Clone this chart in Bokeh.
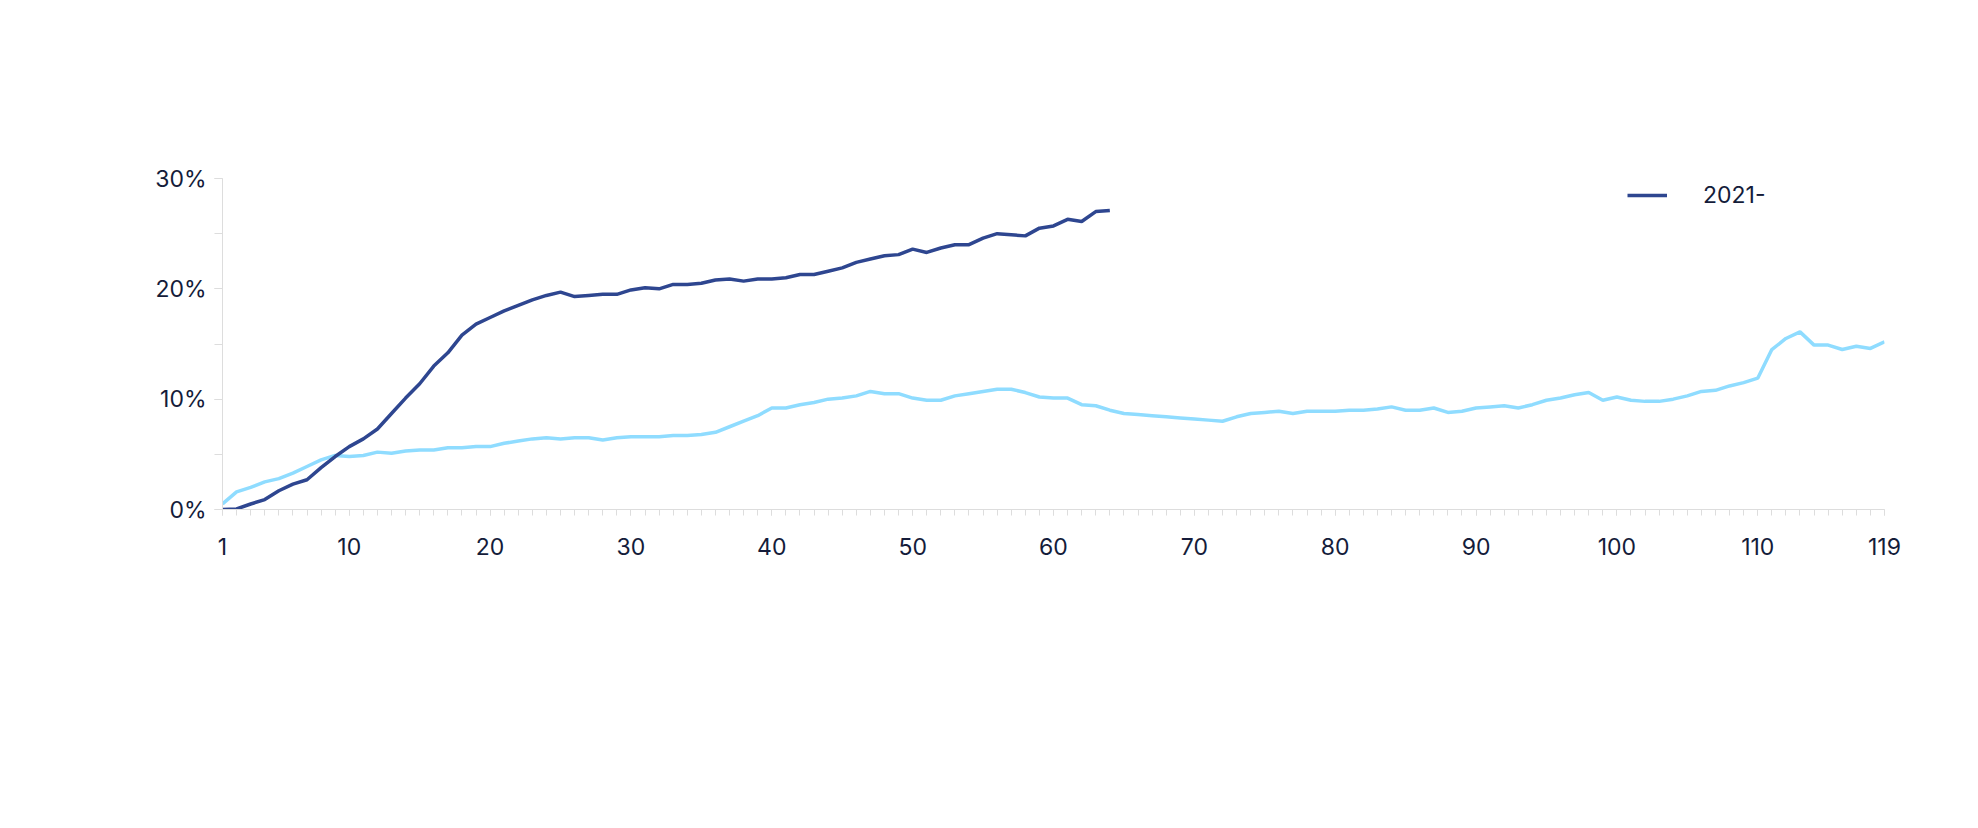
from bokeh.plotting import figure
from bokeh.models import Label, Legend, LegendItem, FixedTicker, CustomJSTickFormatter, BoxAnnotation
from bokeh.embed import file_html
from bokeh.resources import INLINE

months = list(range(1, 120))
prior_10_years = [0.5,1.6,2.0,2.5,2.8,3.3,3.9,4.5,4.9,4.8,4.9,5.2,5.1,5.3,5.4,5.4,5.6,5.6,5.7,5.7,
 6.0,6.2,6.4,6.5,6.4,6.5,6.5,6.3,6.5,6.6,6.6,6.6,6.7,6.7,6.8,7.0,7.5,8.0,8.5,9.2,
 9.2,9.5,9.7,10.0,10.1,10.3,10.7,10.5,10.5,10.1,9.9,9.9,10.3,10.5,10.7,10.9,10.9,10.6,10.2,10.1,
 10.1,9.5,9.4,9.0,8.7,8.6,8.5,8.4,8.3,8.2,8.1,8.0,8.4,8.7,8.8,8.9,8.7,8.9,8.9,8.9,
 9.0,9.0,9.1,9.3,9.0,9.0,9.2,8.8,8.9,9.2,9.3,9.4,9.2,9.5,9.9,10.1,10.4,10.6,9.9,10.2,
 9.9,9.8,9.8,10.0,10.3,10.7,10.8,11.2,11.5,11.9,14.5,15.5,16.1,14.9,14.9,14.5,14.8,14.6,15.2]
series_2021 = [0.0,0.05,0.5,0.9,1.7,2.3,2.7,3.8,4.8,5.7,6.4,7.3,8.7,10.1,11.4,13.0,14.2,15.8,16.8,17.4,
 18.0,18.5,19.0,19.4,19.7,19.3,19.4,19.5,19.5,19.9,20.1,20.0,20.4,20.4,20.5,20.8,20.9,20.7,20.9,20.9,
 21.0,21.3,21.3,21.6,21.9,22.4,22.7,23.0,23.1,23.6,23.3,23.7,24.0,24.0,24.6,25.0,24.9,24.8,25.5,25.7,
 26.3,26.1,27.0,27.1]
x_ticks = [1,10,20,30,40,50,60,70,80,90,100,110,119]
y_ticks = [0,10,20,30]

NAVY = "#141c3a"
LIGHT = "#8fdcff"
DARK = "#2e4690"
W, H = 1960, 810

p = figure(width=W, height=H, output_backend="svg", toolbar_location=None,
           x_range=(1, 119), y_range=(0, 30),
           min_border_left=222, min_border_right=76, min_border_top=178, min_border_bottom=301)
p.outline_line_color = None
p.grid.grid_line_color = None

r1 = p.line(months, prior_10_years, line_color=LIGHT, line_width=3.5)
r2 = p.line(list(range(1, len(series_2021)+1)), series_2021, line_color=DARK, line_width=3.5)

legend = Legend(items=[LegendItem(label="Prior 10 years", renderers=[r1]),
                       LegendItem(label="2021-", renderers=[r2])],
                location=(1405, 300), border_line_color=None, background_fill_alpha=0,
                label_text_font="Inter", label_text_font_size="23px", label_text_color=NAVY,
                glyph_width=40, spacing=8, label_standoff=36)
p.add_layout(legend, "center")

for ax in (p.xaxis[0], p.yaxis[0]):
    ax.axis_line_color = "#dddddd"
    ax.major_tick_line_color = "#dddddd"
    ax.minor_tick_line_color = "#dddddd"
    ax.major_label_text_font = "Inter"
    ax.major_label_text_font_size = "23px"
    ax.major_label_text_color = NAVY
    ax.major_tick_in = 0
    ax.minor_tick_in = 0

p.xaxis.ticker = FixedTicker(ticks=x_ticks, minor_ticks=months)
p.xaxis.major_tick_out = 6
p.xaxis.minor_tick_out = 6
p.xaxis.major_label_standoff = 22
p.yaxis.ticker = FixedTicker(ticks=y_ticks, minor_ticks=[0,5,10,15,20,25,30])
p.yaxis.major_tick_out = 8
p.yaxis.minor_tick_out = 8
p.yaxis.major_label_standoff = 8
p.yaxis.formatter = CustomJSTickFormatter(code="return tick + '%';")

# Label screen coords are relative to the frame's bottom-left corner
p.add_layout(Label(x=830, y=-103, x_units="screen", y_units="screen", text="Months",
                   text_font="Inter", text_font_size="23px", text_font_style="bold",
                   text_color=NAVY, text_align="center", text_baseline="middle"))
p.add_layout(Label(x=-141, y=161, x_units="screen", y_units="screen", text="Cumulative Price Increase",
                   text_font="Inter", text_font_size="23px", text_font_style="bold", angle=1.5708,
                   text_color=NAVY, text_align="center", text_baseline="middle"))
p.add_layout(Label(x=-156, y=504, x_units="screen", y_units="screen",
                   text="US grocery prices: 2021-2026 vs prior 10 years",
                   text_font="Liberation Serif", text_font_size="60px",
                   text_color=NAVY, text_align="left", text_baseline="top"))
p.add_layout(Label(x=-156, y=-266, x_units="screen", y_units="screen",
                   text="Figure 1. Source: Carlyle Analysis; Bureau of Labor Statistics, June 2026. There is no guarantee any trends will continue.",
                   text_font="Inter", text_font_size="21px",
                   text_color="#666666", text_align="left", text_baseline="middle"))
p.add_layout(BoxAnnotation(left=-156, right=1681, top=-215, bottom=-217,
                           left_units="screen", right_units="screen", top_units="screen", bottom_units="screen",
                           fill_color="#dddddd", fill_alpha=1, line_color=None))

open("out.html", "w").write(file_html(p, INLINE))
